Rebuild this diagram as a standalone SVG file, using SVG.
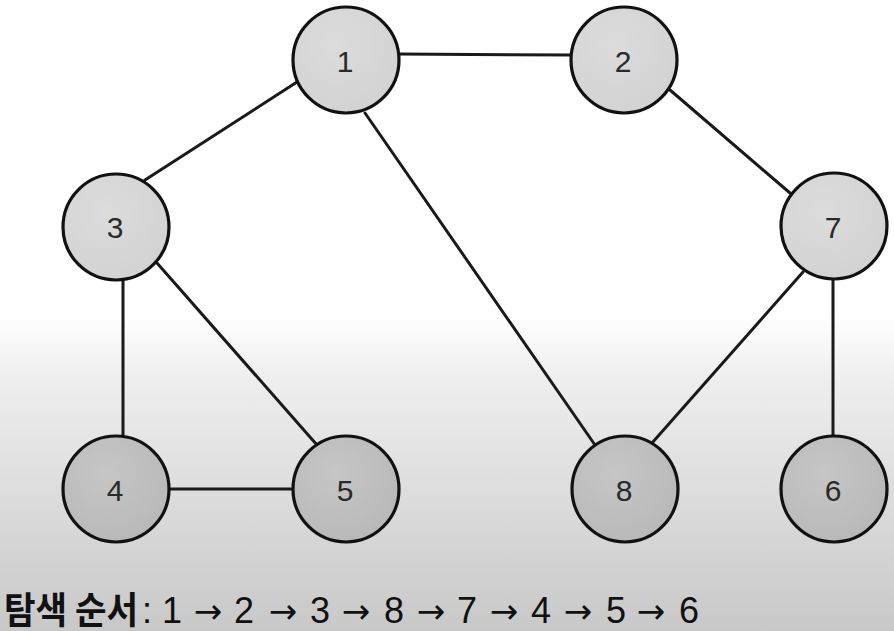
<svg xmlns="http://www.w3.org/2000/svg" width="894" height="631" viewBox="0 0 894 631">
<defs>
<linearGradient id="bg" x1="0" y1="0" x2="0" y2="1">
<stop offset="0" stop-color="#ffffff"/>
<stop offset="0.5" stop-color="#ffffff"/>
<stop offset="0.6" stop-color="#eeeeee"/>
<stop offset="1" stop-color="#c8c8c8"/>
</linearGradient>
<radialGradient id="nodeTop" cx="0.4" cy="0.35" r="0.7">
<stop offset="0" stop-color="#dcdcdc"/>
<stop offset="1" stop-color="#d2d2d2"/>
</radialGradient>
<radialGradient id="nodeBot" cx="0.4" cy="0.35" r="0.7">
<stop offset="0" stop-color="#c6c6c6"/>
<stop offset="1" stop-color="#b8b8b8"/>
</radialGradient>
</defs>
<style>
.edge{stroke:#1a1a1a;stroke-width:3;fill:none;stroke-linecap:round}
.n{stroke:#111;stroke-width:3.2}
.top{fill:url(#nodeTop)}
.bot{fill:url(#nodeBot)}
.lbl{font-family:"Liberation Sans",Arial,sans-serif;font-size:30px;fill:#2a2a2a;text-anchor:middle}
.seq{font-family:"Liberation Sans",Arial,sans-serif;font-size:36px;fill:#111}
.arr{font-family:"DejaVu Sans",sans-serif;font-size:34px;fill:#111}
.ko{font-family:"Noto Sans CJK KR","Noto Sans CJK SC",sans-serif;font-size:37px;font-weight:bold;fill:#111}
</style>
<rect x="0" y="0" width="894" height="631" fill="url(#bg)"/>
<g id="connectors">
<path class="edge" d="M398 54 L573 55"/>
<path class="edge" d="M297 82 L145 180"/>
<path class="edge" d="M365 113 L595 445"/>
<path class="edge" d="M670 90 L790 193"/>
<path class="edge" d="M803 272 L652 443"/>
<path class="edge" d="M833 280 L833 436"/>
<path class="edge" d="M123 280 L123 435"/>
<path class="edge" d="M157 263 L317 445"/>
<path class="edge" d="M170 489 L293 489"/>
</g>
<g id="node1"><circle class="n top" cx="346" cy="60" r="53"/><text class="lbl" x="345" y="72">1</text></g>
<g id="node2"><circle class="n top" cx="624" cy="60" r="53"/><text class="lbl" x="623" y="72">2</text></g>
<g id="node3"><circle class="n top" cx="116" cy="227" r="53"/><text class="lbl" x="115" y="238">3</text></g>
<g id="node7"><circle class="n top" cx="834" cy="226" r="53"/><text class="lbl" x="833" y="238">7</text></g>
<g id="node4"><circle class="n bot" cx="116" cy="489" r="53"/><text class="lbl" x="115" y="501">4</text></g>
<g id="node5"><circle class="n bot" cx="346" cy="489" r="53"/><text class="lbl" x="345" y="501">5</text></g>
<g id="node8"><circle class="n bot" cx="625" cy="489" r="53"/><text class="lbl" x="624" y="501">8</text></g>
<g id="node6"><circle class="n bot" cx="834" cy="489" r="53"/><text class="lbl" x="833" y="501">6</text></g>
<g id="caption">
<text class="ko" x="4" y="624" textLength="134" lengthAdjust="spacingAndGlyphs">탐색 순서</text>
<text class="seq" x="142" y="623">:</text>
<text class="seq" x="162" y="623">1</text>
<text class="arr" x="208" y="623" text-anchor="middle">→</text>
<text class="seq" x="234" y="623">2</text>
<text class="arr" x="283" y="623" text-anchor="middle">→</text>
<text class="seq" x="310" y="623">3</text>
<text class="arr" x="356" y="623" text-anchor="middle">→</text>
<text class="seq" x="384" y="623">8</text>
<text class="arr" x="431" y="623" text-anchor="middle">→</text>
<text class="seq" x="457" y="623">7</text>
<text class="arr" x="504" y="623" text-anchor="middle">→</text>
<text class="seq" x="531" y="623">4</text>
<text class="arr" x="578" y="623" text-anchor="middle">→</text>
<text class="seq" x="606" y="623">5</text>
<text class="arr" x="651" y="623" text-anchor="middle">→</text>
<text class="seq" x="679" y="623">6</text>
</g>
</svg>
